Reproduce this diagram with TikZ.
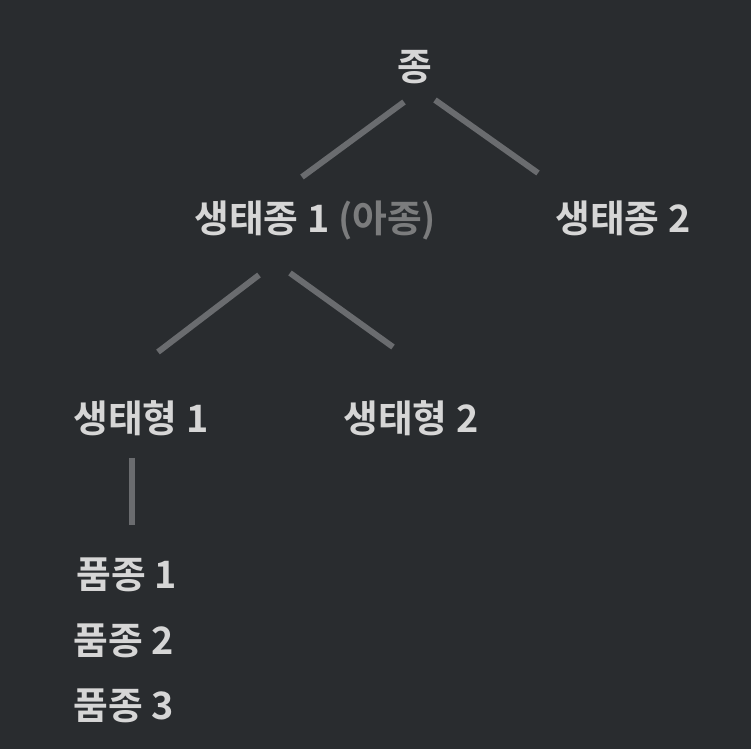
\documentclass[tikz,border=0pt]{standalone}
\usepackage{fontspec}
\setmainfont{Noto Sans CJK KR}[BoldFont=* Bold]
\usepackage{xcolor}
\usepackage{tikz}
\usetikzlibrary{calc}

\definecolor{bgDark}{HTML}{292C2F}
\definecolor{textLight}{HTML}{D6D6D6}
\definecolor{textDim}{HTML}{7B7C7D}
\definecolor{lineGray}{HTML}{6A6C6F}

\tikzset{
    label/.style={text=textLight, inner sep=0pt, font=\fontsize{21.5}{26}\selectfont\bfseries},
    branch/.style={draw=lineGray, line width=3.4pt}
}

\begin{document}
\begin{tikzpicture} [x=0.02cm, y=-0.02cm]
        % background, fixes the page size
        \fill[bgDark] (0,0) rectangle (751,749);

        % Labels
        \node[label, anchor=base] (jong) at (415,81) {종};
        \node[label, anchor=base west] (subA) at (194,233) {생태종 1 \textcolor{textDim}{(아종)}};
        \node[label, anchor=base west] (subB) at (555,233) {생태종 2};
        \node[label, anchor=base west] (ecoA) at (73,433) {생태형 1};
        \node[label, anchor=base west] (ecoB) at (343,433) {생태형 2};
        \node[label, anchor=base west] (cvA) at (76,589) {품종 1};
        \node[label, anchor=base west] (cvB) at (73,655) {품종 2};
        \node[label, anchor=base west] (cvC) at (73,720) {품종 3};

        % Branches
        \draw[branch] ($(jong.base)+(-11,21)$) -- ($(subA.base west)+(108,-56)$);
        \draw[branch] ($(jong.base)+(20,19)$) -- ($(subB.base west)+(-17,-60)$);
        \draw[branch] ($(subA.base west)+(65,42)$) -- ($(ecoA.base west)+(85,-81)$);
        \draw[branch] ($(subA.base west)+(96,40)$) -- ($(ecoB.base west)+(50,-86)$);
        \draw[branch] ($(ecoA.base west)+(59,25)$) -- ($(cvA.base west)+(56,-64)$);
\end{tikzpicture}
\end{document}
